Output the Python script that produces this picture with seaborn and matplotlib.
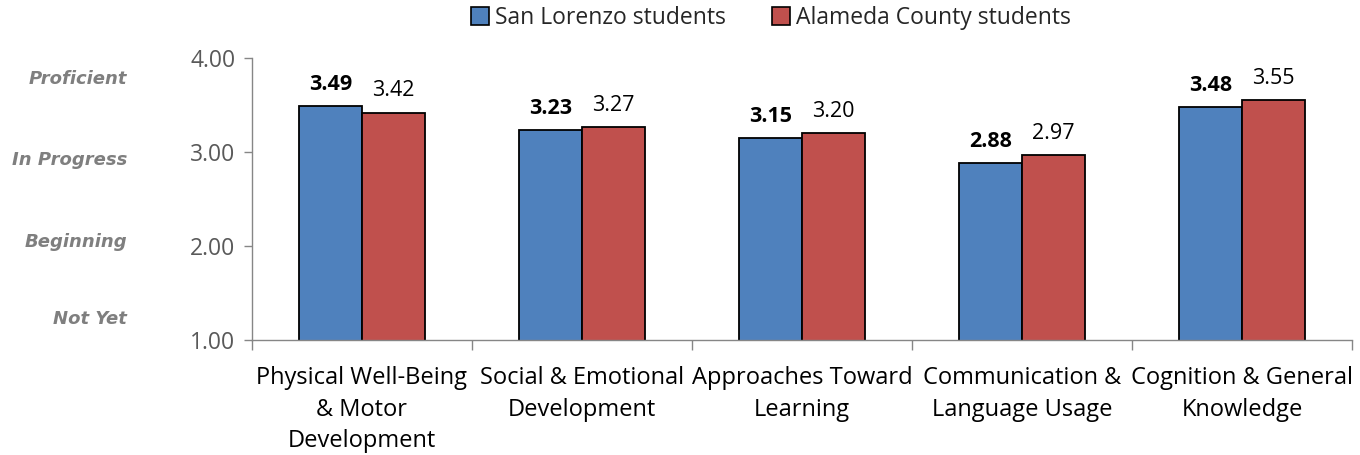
import matplotlib
matplotlib.use("Agg")
import matplotlib.pyplot as plt
import matplotlib.transforms as mtransforms
import seaborn as sns
import pandas as pd
from matplotlib.patches import Patch

categories = ["Physical Well-Being\n& Motor\nDevelopment", "Social & Emotional\nDevelopment",
              "Approaches Toward\nLearning", "Communication &\nLanguage Usage",
              "Cognition & General\nKnowledge"]
san_lorenzo = [3.49, 3.23, 3.15, 2.88, 3.48]
alameda = [3.42, 3.27, 3.20, 2.97, 3.55]
series = ["San Lorenzo students", "Alameda County students"]
yticks = [1.0, 2.0, 3.0, 4.0]
level_labels = ["Not Yet", "Beginning", "In Progress", "Proficient"]
level_pos = [1.22, 2.04, 2.92, 3.78]

colors = ["#4F81BD", "#C0504D"]

df = pd.DataFrame({
    "cat": categories * 2,
    "val": san_lorenzo + alameda,
    "series": [series[0]] * 5 + [series[1]] * 5,
})

sns.set_theme(style="white")
plt.rcParams['font.family'] = ['Open Sans', 'DejaVu Sans']

fig = plt.figure(figsize=(13.6, 4.55), dpi=100)
ax = fig.add_axes([252/1360, 1 - 340/455, 1100/1360, 282/455])

sns.barplot(data=df, x="cat", y="val", hue="series", palette=colors, ax=ax,
            width=0.57, edgecolor="black", linewidth=1.3, saturation=1, legend=False)

ax.set_ylim(1.0, 4.0)
ax.set_xlim(-0.5, 4.5)
ax.set_yticks(yticks)
ax.set_yticklabels([f"{v:.2f}" for v in yticks], fontsize=16.5, color="#595959")
ax.tick_params(axis="x", labelsize=17, colors="black", bottom=False, pad=13)
ax.tick_params(axis="y", length=6, width=1, left=True, color="#868686", pad=6)
ax.set_xlabel("")
ax.set_ylabel("")
for lbl in ax.get_xticklabels():
    lbl.set_color("black")
    lbl.set_linespacing(1.4)
# category boundary ticks
ax.set_xticks([i - 0.5 for i in range(6)], minor=True)
ax.tick_params(axis="x", which="minor", bottom=True, length=7, width=1, color="#868686")

for s in ["top", "right"]:
    ax.spines[s].set_visible(False)
for s in ["left", "bottom"]:
    ax.spines[s].set_color("#868686")
    ax.spines[s].set_linewidth(1)

# value labels
for i, cont in enumerate(ax.containers):
    labs = [f"{v:.2f}" for v in cont.datavalues]
    ax.bar_label(cont, labels=labs, padding=8, fontsize=15.5,
                 fontweight="bold" if i == 0 else "normal", color="black")

# level labels
trans = mtransforms.blended_transform_factory(fig.transFigure, ax.transData)
for lab, pos in zip(level_labels, level_pos):
    fig.text(127/1360, pos, lab, transform=trans, ha="right", va="center",
             fontsize=13, fontstyle="italic", fontweight="bold", color="#7f7f7f",
             family=["DejaVu Sans"])

handles = [Patch(facecolor=c, edgecolor="black", linewidth=1.2) for c in colors]
fig.legend(handles, series, loc="center", bbox_to_anchor=(771/1360, 1 - 18/455), ncol=2,
           frameon=False, fontsize=16.5, handlelength=0.8, handleheight=0.8,
           handletextpad=0.25, columnspacing=2.0, borderpad=0)

fig.savefig("out.png", dpi=100)
